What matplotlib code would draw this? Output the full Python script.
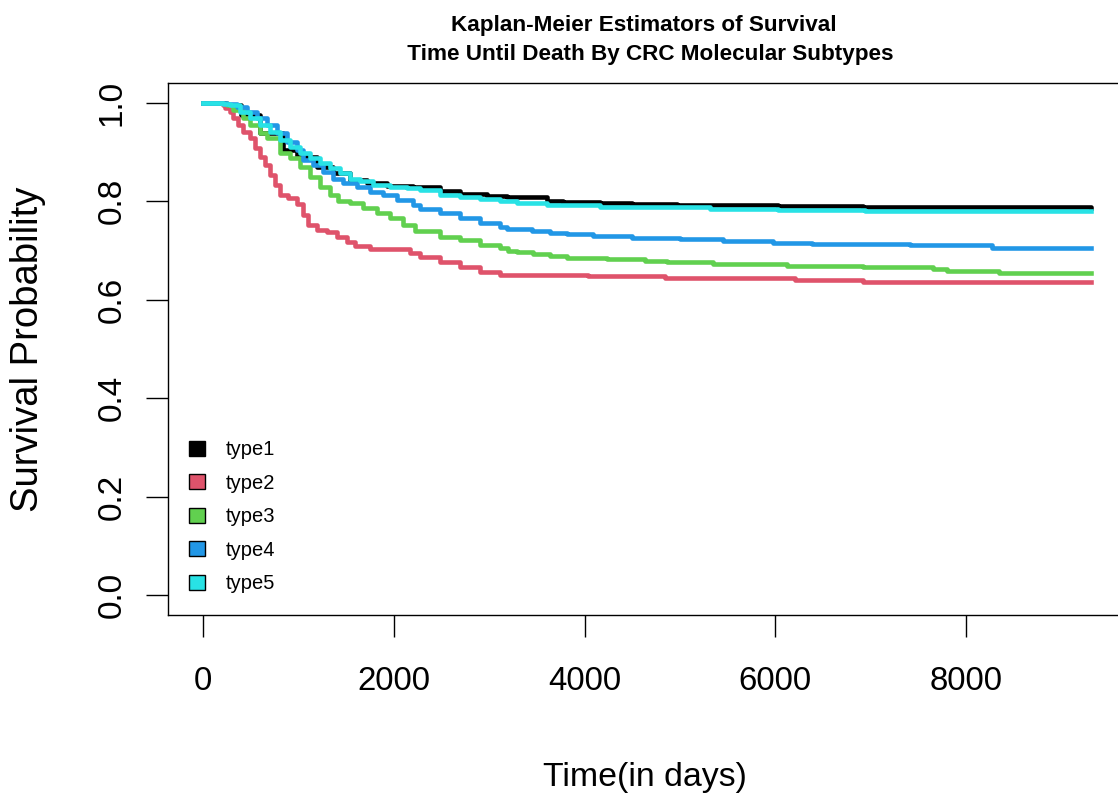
"""Kaplan-Meier survival curves by CRC molecular subtype."""

import matplotlib
matplotlib.use("Agg")
from matplotlib import pyplot as plt
from matplotlib.patches import Patch

plt.rcParams['font.family'] = ['Liberation Sans', 'DejaVu Sans']

subtypes = ['type1', 'type2', 'type3', 'type4', 'type5']
colors = ['#000000', '#DF536B', '#61D04F', '#2297E6', '#28E2E5']

# event times (days) and survival estimates
t_type1 = [0, 230, 400, 595, 840, 980, 1190, 1364, 1540, 1714, 1924, 2204, 2484, 2694,
           2974, 3184, 3606, 3774, 4162, 4498, 4970, 6030, 6924, 9315]
s_type1 = [1.0, 0.995, 0.975, 0.938, 0.904, 0.890, 0.870, 0.857, 0.843, 0.836, 0.831,
           0.829, 0.821, 0.815, 0.810, 0.808, 0.801, 0.799, 0.797, 0.795, 0.792, 0.791,
           0.788, 0.787]

t_type2 = [0, 207, 228, 280, 315, 367, 420, 490, 543, 595, 647, 700, 752, 805, 892, 980,
           1049, 1102, 1190, 1295, 1400, 1505, 1592, 1749, 2169, 2274, 2484, 2694, 2904,
           3113, 4038, 4845, 6208, 6924, 9315]
s_type2 = [1.0, 0.995, 0.989, 0.982, 0.968, 0.955, 0.941, 0.928, 0.907, 0.890, 0.873, 0.853,
           0.833, 0.813, 0.806, 0.794, 0.772, 0.752, 0.741, 0.738, 0.728, 0.718, 0.708,
           0.703, 0.694, 0.686, 0.677, 0.667, 0.657, 0.650, 0.647, 0.643, 0.640, 0.636,
           0.636]

t_type3 = [0, 245, 315, 420, 490, 595, 665, 805, 910, 1015, 1120, 1224, 1330, 1417, 1540,
           1679, 1819, 1959, 2099, 2221, 2484, 2694, 2904, 3113, 3198, 3290, 3460, 3638,
           3816, 4236, 4634, 4865, 5349, 6125, 6924, 7657, 7804, 8350, 9315]
s_type3 = [1.0, 0.995, 0.985, 0.968, 0.955, 0.938, 0.928, 0.897, 0.887, 0.870, 0.850, 0.829,
           0.813, 0.801, 0.796, 0.786, 0.775, 0.765, 0.752, 0.740, 0.728, 0.721, 0.711,
           0.704, 0.699, 0.696, 0.693, 0.689, 0.685, 0.682, 0.679, 0.676, 0.672, 0.669,
           0.666, 0.662, 0.659, 0.655, 0.655]

t_type4 = [0, 248, 350, 455, 560, 665, 770, 875, 980, 1049, 1154, 1259, 1364, 1469, 1610,
           1749, 1889, 2029, 2204, 2274, 2484, 2694, 2904, 3113, 3187, 3450, 3638, 3816,
           4089, 4498, 5001, 5453, 5978, 6385, 7414, 8275, 9315]
s_type4 = [1.0, 0.998, 0.992, 0.982, 0.968, 0.955, 0.938, 0.921, 0.903, 0.884, 0.873, 0.860,
           0.846, 0.836, 0.829, 0.819, 0.813, 0.802, 0.792, 0.785, 0.775, 0.765, 0.755,
           0.748, 0.743, 0.739, 0.736, 0.733, 0.729, 0.726, 0.723, 0.719, 0.716, 0.712,
           0.710, 0.705, 0.705]

t_type5 = [0, 207, 280, 385, 490, 595, 700, 805, 910, 1015, 1120, 1224, 1330, 1434, 1540,
           1644, 1784, 1959, 2134, 2274, 2484, 2694, 2904, 3113, 3290, 3606, 4162, 5316,
           6030, 6945, 9315]
s_type5 = [1.0, 0.998, 0.995, 0.982, 0.968, 0.955, 0.941, 0.924, 0.911, 0.897, 0.887, 0.877,
           0.867, 0.857, 0.846, 0.840, 0.833, 0.829, 0.826, 0.823, 0.8125, 0.808, 0.804,
           0.801, 0.796, 0.792, 0.789, 0.785, 0.782, 0.779, 0.779]

times = [t_type1, t_type2, t_type3, t_type4, t_type5]
survival = [s_type1, s_type2, s_type3, s_type4, s_type5]

x_ticks = [0, 2000, 4000, 6000, 8000]
y_ticks = [0.0, 0.2, 0.4, 0.6, 0.8, 1.0]

fig = plt.figure(figsize=(11.18, 8.09), dpi=100)
ax = fig.add_axes([0.15, 0.2402, 0.858, 0.6572])

for t, s, c in zip(times, survival, colors):
    ax.step(t, s, where='post', color=c, lw=3.3)

ax.set_xlim(-373, 9688)
ax.set_ylim(-0.04, 1.04)

ax.set_xticks(x_ticks)
ax.set_xticklabels([str(v) for v in x_ticks], fontsize=23.8)
ax.set_yticks(y_ticks)
ax.set_yticklabels([f'{v:.1f}' for v in y_ticks], fontsize=24, rotation=90, va='center')
ax.tick_params(axis='both', direction='out', length=16, width=1)
ax.tick_params(axis='x', pad=21)
ax.tick_params(axis='y', pad=13)
for sp in ax.spines.values():
    sp.set_linewidth(1)

ax.set_xlabel('Time(in days)', fontsize=24.4, va='center')
ax.xaxis.set_label_coords(0.497, -0.307)
ax.set_ylabel('Survival Probability', fontsize=27.5, va='center')
ax.yaxis.set_label_coords(-0.1456, 0.5)

ax.set_title('Kaplan-Meier Estimators of Survival \n Time Until Death By CRC Molecular Subtypes',
             fontsize=16.2, fontweight='bold', pad=16.5, linespacing=1.53)

handles = [Patch(facecolor=c, edgecolor='black', linewidth=1) for c in colors]
ax.legend(handles, subtypes, loc='upper left', bbox_to_anchor=(0.022, 0.328),
          frameon=False, fontsize=14.5, handlelength=0.8, handleheight=0.8,
          handletextpad=1.04, labelspacing=0.72, borderpad=0, borderaxespad=0)

fig.savefig('out.png', dpi=100)
